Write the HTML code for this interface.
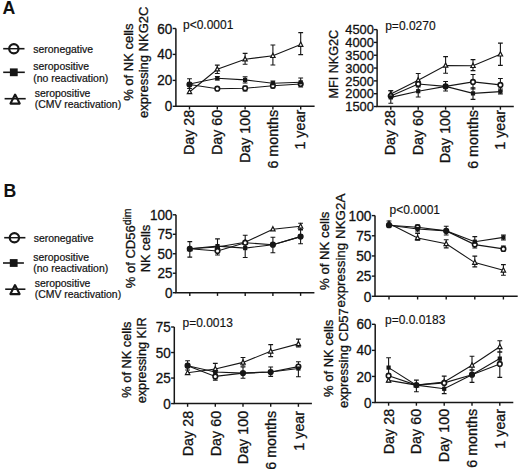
<!DOCTYPE html><html><head><meta charset="utf-8"><style>html,body{margin:0;padding:0;background:#fff;}svg{display:block;}</style></head><body>
<svg width="520" height="469" viewBox="0 0 520 469" font-family='"Liberation Sans", sans-serif' fill="#111" stroke-linecap="butt">
<rect width="520" height="469" fill="#fff"/>
<style>text{stroke:#111;stroke-width:0.3px;} text.nb{stroke:none;} text.pv{stroke-width:0.15px;} text.lg{stroke-width:0.2px;}</style>
<text font-size="17.7" text-anchor="start" transform="translate(2.60,13.85)" font-weight="bold" class="nb">A</text>
<text font-size="17.7" text-anchor="start" transform="translate(3.40,196.60)" font-weight="bold" class="nb">B</text>
<line x1="3.2" y1="48.70" x2="24.5" y2="48.70" stroke="#161616" stroke-width="1.6"/>
<circle cx="13.85" cy="48.70" r="4.65" fill="#fff" stroke="#161616" stroke-width="2.2"/>
<line x1="8.85" y1="48.70" x2="18.85" y2="48.70" stroke="#161616" stroke-width="1.4"/>
<line x1="3.2" y1="72.30" x2="24.8" y2="72.30" stroke="#161616" stroke-width="1.6"/>
<rect x="9.90" y="68.40" width="7.8" height="7.8" fill="#161616"/>
<path d="M15.10,94.60 L19.70,103.60 L10.50,103.60 Z" fill="#fff" stroke="#161616" stroke-width="2.1" stroke-linejoin="round"/>
<line x1="4.6" y1="98.70" x2="25.7" y2="98.70" stroke="#161616" stroke-width="1.6"/>
<text font-size="10.0" text-anchor="start" transform="translate(33.30,53.20) scale(1.045,1.0)" class="lg">seronegative</text>
<text font-size="10.0" text-anchor="start" transform="translate(33.30,70.40) scale(1.045,1.0)" class="lg">seropositive</text>
<text font-size="10.0" text-anchor="start" transform="translate(33.30,82.00) scale(1.045,1.0)" class="lg">(no reactivation)</text>
<text font-size="10.0" text-anchor="start" transform="translate(34.70,96.50) scale(1.045,1.0)" class="lg">seropositive</text>
<text font-size="10.0" text-anchor="start" transform="translate(34.70,107.70) scale(1.045,1.0)" class="lg">(CMV reactivation)</text>
<line x1="4.2" y1="237.70" x2="25.4" y2="237.70" stroke="#161616" stroke-width="1.6"/>
<circle cx="14.4" cy="237.70" r="4.65" fill="#fff" stroke="#161616" stroke-width="2.2"/>
<line x1="9.4" y1="237.70" x2="19.4" y2="237.70" stroke="#161616" stroke-width="1.4"/>
<line x1="3.0" y1="263.00" x2="23.9" y2="263.00" stroke="#161616" stroke-width="1.6"/>
<rect x="9.80" y="259.10" width="7.8" height="7.8" fill="#161616"/>
<path d="M15.00,285.10 L19.60,294.10 L10.40,294.10 Z" fill="#fff" stroke="#161616" stroke-width="2.1" stroke-linejoin="round"/>
<line x1="5.2" y1="289.20" x2="25.4" y2="289.20" stroke="#161616" stroke-width="1.6"/>
<text font-size="10.0" text-anchor="start" transform="translate(33.70,242.00) scale(1.045,1.0)" class="lg">seronegative</text>
<text font-size="10.0" text-anchor="start" transform="translate(33.30,260.80) scale(1.045,1.0)" class="lg">seropositive</text>
<text font-size="10.0" text-anchor="start" transform="translate(33.30,271.90) scale(1.045,1.0)" class="lg">(no reactivation)</text>
<text font-size="10.0" text-anchor="start" transform="translate(34.70,287.00) scale(1.045,1.0)" class="lg">seropositive</text>
<text font-size="10.0" text-anchor="start" transform="translate(34.70,298.30) scale(1.045,1.0)" class="lg">(CMV reactivation)</text>
<path d="M175.90,28.50 V106.30 H314.60" fill="none" stroke="#161616" stroke-width="1.5"/>
<line x1="172.70" y1="28.50" x2="175.90" y2="28.50" stroke="#161616" stroke-width="1.4"/>
<text font-size="13.5" text-anchor="end" transform="translate(172.30,33.57) scale(1.0,1.05)">60</text>
<line x1="172.70" y1="54.40" x2="175.90" y2="54.40" stroke="#161616" stroke-width="1.4"/>
<text font-size="13.5" text-anchor="end" transform="translate(172.30,59.47) scale(1.0,1.05)">40</text>
<line x1="172.70" y1="80.40" x2="175.90" y2="80.40" stroke="#161616" stroke-width="1.4"/>
<text font-size="13.5" text-anchor="end" transform="translate(172.30,85.47) scale(1.0,1.05)">20</text>
<line x1="172.70" y1="106.30" x2="175.90" y2="106.30" stroke="#161616" stroke-width="1.4"/>
<text font-size="13.5" text-anchor="end" transform="translate(172.30,111.37) scale(1.0,1.05)">0</text>
<line x1="189.50" y1="106.30" x2="189.50" y2="109.50" stroke="#161616" stroke-width="1.4"/>
<line x1="217.30" y1="106.30" x2="217.30" y2="109.50" stroke="#161616" stroke-width="1.4"/>
<line x1="245.10" y1="106.30" x2="245.10" y2="109.50" stroke="#161616" stroke-width="1.4"/>
<line x1="272.90" y1="106.30" x2="272.90" y2="109.50" stroke="#161616" stroke-width="1.4"/>
<line x1="300.70" y1="106.30" x2="300.70" y2="109.50" stroke="#161616" stroke-width="1.4"/>
<text font-size="14.3" text-anchor="end" transform="translate(194.10,109.80) rotate(-90)">Day 28</text>
<text font-size="14.3" text-anchor="end" transform="translate(221.90,109.80) rotate(-90)">Day 60</text>
<text font-size="14.3" text-anchor="end" transform="translate(249.70,109.80) rotate(-90)">Day 100</text>
<text font-size="14.3" text-anchor="end" transform="translate(277.50,109.80) rotate(-90)">6 months</text>
<text font-size="14.3" text-anchor="end" transform="translate(305.30,109.80) rotate(-90)">1 year</text>
<path d="M217.30,65.10 V73.50 M214.90,65.10 H219.70 M214.90,73.50 H219.70" stroke="#161616" stroke-width="1.1" fill="none"/>
<path d="M245.10,53.40 V64.20 M242.70,53.40 H247.50 M242.70,64.20 H247.50" stroke="#161616" stroke-width="1.1" fill="none"/>
<path d="M272.90,45.00 V65.00 M270.50,45.00 H275.30 M270.50,65.00 H275.30" stroke="#161616" stroke-width="1.1" fill="none"/>
<path d="M300.70,32.60 V54.60 M298.30,32.60 H303.10 M298.30,54.60 H303.10" stroke="#161616" stroke-width="1.1" fill="none"/>
<path d="M245.10,86.00 V91.00 M242.70,86.00 H247.50 M242.70,91.00 H247.50" stroke="#161616" stroke-width="1.1" fill="none"/>
<path d="M272.90,83.00 V88.00 M270.50,83.00 H275.30 M270.50,88.00 H275.30" stroke="#161616" stroke-width="1.1" fill="none"/>
<path d="M189.50,78.80 V88.50 M187.10,78.80 H191.90 M187.10,88.50 H191.90" stroke="#161616" stroke-width="1.1" fill="none"/>
<path d="M217.30,76.50 V80.00 M214.90,76.50 H219.70 M214.90,80.00 H219.70" stroke="#161616" stroke-width="1.1" fill="none"/>
<path d="M245.10,76.80 V83.00 M242.70,76.80 H247.50 M242.70,83.00 H247.50" stroke="#161616" stroke-width="1.1" fill="none"/>
<path d="M272.90,81.00 V86.00 M270.50,81.00 H275.30 M270.50,86.00 H275.30" stroke="#161616" stroke-width="1.1" fill="none"/>
<path d="M300.70,78.00 V87.00 M298.30,78.00 H303.10 M298.30,87.00 H303.10" stroke="#161616" stroke-width="1.1" fill="none"/>
<polyline points="189.50,92.00 217.30,69.20 245.10,59.20 272.90,55.80 300.70,44.60" fill="none" stroke="#161616" stroke-width="1.1"/>
<polyline points="189.50,84.50 217.30,88.70 245.10,88.30 272.90,85.80 300.70,84.00" fill="none" stroke="#161616" stroke-width="1.1"/>
<polyline points="189.50,84.00 217.30,78.20 245.10,79.90 272.90,83.20 300.70,82.30" fill="none" stroke="#161616" stroke-width="1.1"/>
<path d="M189.50,89.47 L191.69,93.72 L187.31,93.72 Z" fill="#fff" stroke="#161616" stroke-width="1.20" stroke-linejoin="miter"/>
<path d="M217.30,66.67 L219.49,70.92 L215.12,70.92 Z" fill="#fff" stroke="#161616" stroke-width="1.20" stroke-linejoin="miter"/>
<path d="M245.10,56.67 L247.28,60.93 L242.91,60.93 Z" fill="#fff" stroke="#161616" stroke-width="1.20" stroke-linejoin="miter"/>
<path d="M272.90,53.27 L275.08,57.52 L270.71,57.52 Z" fill="#fff" stroke="#161616" stroke-width="1.20" stroke-linejoin="miter"/>
<path d="M300.70,42.07 L302.88,46.33 L298.51,46.33 Z" fill="#fff" stroke="#161616" stroke-width="1.20" stroke-linejoin="miter"/>
<circle cx="189.50" cy="84.50" r="2.30" fill="#fff" stroke="#161616" stroke-width="1.60"/>
<circle cx="217.30" cy="88.70" r="2.30" fill="#fff" stroke="#161616" stroke-width="1.60"/>
<circle cx="245.10" cy="88.30" r="2.30" fill="#fff" stroke="#161616" stroke-width="1.60"/>
<circle cx="272.90" cy="85.80" r="2.30" fill="#fff" stroke="#161616" stroke-width="1.60"/>
<circle cx="300.70" cy="84.00" r="2.30" fill="#fff" stroke="#161616" stroke-width="1.60"/>
<rect x="187.40" y="81.90" width="4.20" height="4.20" fill="#161616"/>
<rect x="215.20" y="76.10" width="4.20" height="4.20" fill="#161616"/>
<rect x="243.00" y="77.80" width="4.20" height="4.20" fill="#161616"/>
<rect x="270.80" y="81.10" width="4.20" height="4.20" fill="#161616"/>
<rect x="298.60" y="80.20" width="4.20" height="4.20" fill="#161616"/>
<text font-size="12.0" text-anchor="start" transform="translate(183.00,29.40)" class="pv">p&lt;0.0001</text>
<text font-size="13.0" text-anchor="middle" transform="translate(132.60,62.15) rotate(-90)">% of NK cells</text>
<text font-size="13.0" text-anchor="middle" transform="translate(148.40,62.25) rotate(-90)">expressing NKG2C</text>
<path d="M377.10,29.60 V106.50 H513.80" fill="none" stroke="#161616" stroke-width="1.5"/>
<line x1="373.90" y1="29.60" x2="377.10" y2="29.60" stroke="#161616" stroke-width="1.4"/>
<text font-size="12.9" text-anchor="end" transform="translate(373.90,34.22)">4500</text>
<line x1="373.90" y1="42.42" x2="377.10" y2="42.42" stroke="#161616" stroke-width="1.4"/>
<text font-size="12.9" text-anchor="end" transform="translate(373.90,47.04)">4000</text>
<line x1="373.90" y1="55.24" x2="377.10" y2="55.24" stroke="#161616" stroke-width="1.4"/>
<text font-size="12.9" text-anchor="end" transform="translate(373.90,59.86)">3500</text>
<line x1="373.90" y1="68.06" x2="377.10" y2="68.06" stroke="#161616" stroke-width="1.4"/>
<text font-size="12.9" text-anchor="end" transform="translate(373.90,72.68)">3000</text>
<line x1="373.90" y1="80.88" x2="377.10" y2="80.88" stroke="#161616" stroke-width="1.4"/>
<text font-size="12.9" text-anchor="end" transform="translate(373.90,85.50)">2500</text>
<line x1="373.90" y1="93.70" x2="377.10" y2="93.70" stroke="#161616" stroke-width="1.4"/>
<text font-size="12.9" text-anchor="end" transform="translate(373.90,98.32)">2000</text>
<line x1="373.90" y1="106.52" x2="377.10" y2="106.52" stroke="#161616" stroke-width="1.4"/>
<text font-size="12.9" text-anchor="end" transform="translate(373.90,111.14)">1500</text>
<line x1="390.80" y1="106.50" x2="390.80" y2="109.70" stroke="#161616" stroke-width="1.4"/>
<line x1="418.20" y1="106.50" x2="418.20" y2="109.70" stroke="#161616" stroke-width="1.4"/>
<line x1="445.60" y1="106.50" x2="445.60" y2="109.70" stroke="#161616" stroke-width="1.4"/>
<line x1="473.00" y1="106.50" x2="473.00" y2="109.70" stroke="#161616" stroke-width="1.4"/>
<line x1="500.40" y1="106.50" x2="500.40" y2="109.70" stroke="#161616" stroke-width="1.4"/>
<text font-size="14.3" text-anchor="end" transform="translate(395.40,110.00) rotate(-90)">Day 28</text>
<text font-size="14.3" text-anchor="end" transform="translate(422.80,110.00) rotate(-90)">Day 60</text>
<text font-size="14.3" text-anchor="end" transform="translate(450.20,110.00) rotate(-90)">Day 100</text>
<text font-size="14.3" text-anchor="end" transform="translate(477.60,110.00) rotate(-90)">6 months</text>
<text font-size="14.3" text-anchor="end" transform="translate(505.00,110.00) rotate(-90)">1 year</text>
<path d="M390.80,90.70 V96.00 M388.40,90.70 H393.20 M388.40,96.00 H393.20" stroke="#161616" stroke-width="1.1" fill="none"/>
<path d="M418.20,73.50 V86.90 M415.80,73.50 H420.60 M415.80,86.90 H420.60" stroke="#161616" stroke-width="1.1" fill="none"/>
<path d="M445.60,56.60 V73.30 M443.20,56.60 H448.00 M443.20,73.30 H448.00" stroke="#161616" stroke-width="1.1" fill="none"/>
<path d="M473.00,59.60 V70.60 M470.60,59.60 H475.40 M470.60,70.60 H475.40" stroke="#161616" stroke-width="1.1" fill="none"/>
<path d="M500.40,43.10 V65.40 M498.00,43.10 H502.80 M498.00,65.40 H502.80" stroke="#161616" stroke-width="1.1" fill="none"/>
<path d="M473.00,74.50 V89.00 M470.60,74.50 H475.40 M470.60,89.00 H475.40" stroke="#161616" stroke-width="1.1" fill="none"/>
<path d="M500.40,78.50 V91.00 M498.00,78.50 H502.80 M498.00,91.00 H502.80" stroke="#161616" stroke-width="1.1" fill="none"/>
<path d="M390.80,90.70 V103.30 M388.40,90.70 H393.20 M388.40,103.30 H393.20" stroke="#161616" stroke-width="1.1" fill="none"/>
<path d="M418.20,85.00 V97.00 M415.80,85.00 H420.60 M415.80,97.00 H420.60" stroke="#161616" stroke-width="1.1" fill="none"/>
<path d="M445.60,81.50 V91.00 M443.20,81.50 H448.00 M443.20,91.00 H448.00" stroke="#161616" stroke-width="1.1" fill="none"/>
<path d="M473.00,87.90 V99.40 M470.60,87.90 H475.40 M470.60,99.40 H475.40" stroke="#161616" stroke-width="1.1" fill="none"/>
<path d="M500.40,89.00 V94.00 M498.00,89.00 H502.80 M498.00,94.00 H502.80" stroke="#161616" stroke-width="1.1" fill="none"/>
<polyline points="390.80,94.00 418.20,80.20 445.60,65.50 473.00,65.80 500.40,54.30" fill="none" stroke="#161616" stroke-width="1.1"/>
<polyline points="390.80,96.00 418.20,84.00 445.60,86.40 473.00,81.90 500.40,84.90" fill="none" stroke="#161616" stroke-width="1.1"/>
<polyline points="390.80,97.40 418.20,91.20 445.60,86.40 473.00,93.40 500.40,91.60" fill="none" stroke="#161616" stroke-width="1.1"/>
<path d="M390.80,91.47 L392.99,95.72 L388.62,95.72 Z" fill="#fff" stroke="#161616" stroke-width="1.20" stroke-linejoin="miter"/>
<path d="M418.20,77.67 L420.38,81.92 L416.01,81.92 Z" fill="#fff" stroke="#161616" stroke-width="1.20" stroke-linejoin="miter"/>
<path d="M445.60,62.97 L447.79,67.22 L443.42,67.22 Z" fill="#fff" stroke="#161616" stroke-width="1.20" stroke-linejoin="miter"/>
<path d="M473.00,63.27 L475.19,67.52 L470.81,67.52 Z" fill="#fff" stroke="#161616" stroke-width="1.20" stroke-linejoin="miter"/>
<path d="M500.40,51.77 L502.58,56.02 L498.21,56.02 Z" fill="#fff" stroke="#161616" stroke-width="1.20" stroke-linejoin="miter"/>
<circle cx="390.80" cy="96.00" r="2.30" fill="#fff" stroke="#161616" stroke-width="1.60"/>
<circle cx="418.20" cy="84.00" r="2.30" fill="#fff" stroke="#161616" stroke-width="1.60"/>
<circle cx="445.60" cy="86.40" r="2.30" fill="#fff" stroke="#161616" stroke-width="1.60"/>
<circle cx="473.00" cy="81.90" r="2.30" fill="#fff" stroke="#161616" stroke-width="1.60"/>
<circle cx="500.40" cy="84.90" r="2.30" fill="#fff" stroke="#161616" stroke-width="1.60"/>
<rect x="388.70" y="95.30" width="4.20" height="4.20" fill="#161616"/>
<rect x="416.10" y="89.10" width="4.20" height="4.20" fill="#161616"/>
<rect x="443.50" y="84.30" width="4.20" height="4.20" fill="#161616"/>
<rect x="470.90" y="91.30" width="4.20" height="4.20" fill="#161616"/>
<rect x="498.30" y="89.50" width="4.20" height="4.20" fill="#161616"/>
<text font-size="12.0" text-anchor="start" transform="translate(385.20,30.30)" class="pv">p=0.0270</text>
<text font-size="12.65" text-anchor="middle" transform="translate(337.90,64.20) rotate(-90)">MFI NKG2C</text>
<path d="M176.00,214.80 V292.70 H314.40" fill="none" stroke="#161616" stroke-width="1.5"/>
<line x1="172.80" y1="214.80" x2="176.00" y2="214.80" stroke="#161616" stroke-width="1.4"/>
<text font-size="13.5" text-anchor="end" transform="translate(172.40,219.87) scale(1.0,1.05)">100</text>
<line x1="172.80" y1="234.28" x2="176.00" y2="234.28" stroke="#161616" stroke-width="1.4"/>
<text font-size="13.5" text-anchor="end" transform="translate(172.40,239.35) scale(1.0,1.05)">75</text>
<line x1="172.80" y1="253.75" x2="176.00" y2="253.75" stroke="#161616" stroke-width="1.4"/>
<text font-size="13.5" text-anchor="end" transform="translate(172.40,258.82) scale(1.0,1.05)">50</text>
<line x1="172.80" y1="273.23" x2="176.00" y2="273.23" stroke="#161616" stroke-width="1.4"/>
<text font-size="13.5" text-anchor="end" transform="translate(172.40,278.30) scale(1.0,1.05)">25</text>
<line x1="172.80" y1="292.70" x2="176.00" y2="292.70" stroke="#161616" stroke-width="1.4"/>
<text font-size="13.5" text-anchor="end" transform="translate(172.40,297.77) scale(1.0,1.05)">0</text>
<line x1="189.80" y1="292.70" x2="189.80" y2="295.90" stroke="#161616" stroke-width="1.4"/>
<line x1="217.50" y1="292.70" x2="217.50" y2="295.90" stroke="#161616" stroke-width="1.4"/>
<line x1="245.20" y1="292.70" x2="245.20" y2="295.90" stroke="#161616" stroke-width="1.4"/>
<line x1="272.90" y1="292.70" x2="272.90" y2="295.90" stroke="#161616" stroke-width="1.4"/>
<line x1="300.60" y1="292.70" x2="300.60" y2="295.90" stroke="#161616" stroke-width="1.4"/>
<path d="M300.60,223.20 V229.50 M298.20,223.20 H303.00 M298.20,229.50 H303.00" stroke="#161616" stroke-width="1.1" fill="none"/>
<path d="M217.50,247.00 V255.00 M215.10,247.00 H219.90 M215.10,255.00 H219.90" stroke="#161616" stroke-width="1.1" fill="none"/>
<path d="M189.80,241.60 V257.10 M187.40,241.60 H192.20 M187.40,257.10 H192.20" stroke="#161616" stroke-width="1.1" fill="none"/>
<path d="M217.50,238.90 V250.00 M215.10,238.90 H219.90 M215.10,250.00 H219.90" stroke="#161616" stroke-width="1.1" fill="none"/>
<path d="M245.20,235.30 V257.50 M242.80,235.30 H247.60 M242.80,257.50 H247.60" stroke="#161616" stroke-width="1.1" fill="none"/>
<path d="M272.90,237.30 V252.80 M270.50,237.30 H275.30 M270.50,252.80 H275.30" stroke="#161616" stroke-width="1.1" fill="none"/>
<path d="M300.60,230.00 V243.80 M298.20,230.00 H303.00 M298.20,243.80 H303.00" stroke="#161616" stroke-width="1.1" fill="none"/>
<polyline points="189.80,248.80 217.50,247.00 245.20,242.30 272.90,229.20 300.60,226.30" fill="none" stroke="#161616" stroke-width="1.1"/>
<polyline points="189.80,248.80 217.50,251.00 245.20,242.70 272.90,244.70 300.60,236.60" fill="none" stroke="#161616" stroke-width="1.1"/>
<polyline points="189.80,248.80 217.50,246.10 245.20,248.10 272.90,244.70 300.60,236.60" fill="none" stroke="#161616" stroke-width="1.1"/>
<path d="M189.80,246.27 L191.99,250.53 L187.62,250.53 Z" fill="#fff" stroke="#161616" stroke-width="1.20" stroke-linejoin="miter"/>
<path d="M217.50,244.47 L219.69,248.72 L215.31,248.72 Z" fill="#fff" stroke="#161616" stroke-width="1.20" stroke-linejoin="miter"/>
<path d="M245.20,239.77 L247.39,244.03 L243.02,244.03 Z" fill="#fff" stroke="#161616" stroke-width="1.20" stroke-linejoin="miter"/>
<path d="M272.90,226.67 L275.08,230.92 L270.71,230.92 Z" fill="#fff" stroke="#161616" stroke-width="1.20" stroke-linejoin="miter"/>
<path d="M300.60,223.77 L302.79,228.03 L298.42,228.03 Z" fill="#fff" stroke="#161616" stroke-width="1.20" stroke-linejoin="miter"/>
<circle cx="189.80" cy="248.80" r="2.30" fill="#fff" stroke="#161616" stroke-width="1.60"/>
<circle cx="217.50" cy="251.00" r="2.30" fill="#fff" stroke="#161616" stroke-width="1.60"/>
<circle cx="245.20" cy="242.70" r="2.30" fill="#fff" stroke="#161616" stroke-width="1.60"/>
<circle cx="272.90" cy="244.70" r="2.30" fill="#fff" stroke="#161616" stroke-width="1.60"/>
<circle cx="300.60" cy="236.60" r="2.30" fill="#fff" stroke="#161616" stroke-width="1.60"/>
<rect x="187.70" y="246.70" width="4.20" height="4.20" fill="#161616"/>
<rect x="215.40" y="244.00" width="4.20" height="4.20" fill="#161616"/>
<rect x="243.10" y="246.00" width="4.20" height="4.20" fill="#161616"/>
<rect x="270.80" y="242.60" width="4.20" height="4.20" fill="#161616"/>
<rect x="298.50" y="234.50" width="4.20" height="4.20" fill="#161616"/>
<text font-size="13.0" text-anchor="middle" transform="translate(134.70,248.30) rotate(-90)">% of CD56<tspan font-size="10.5" dy="-4.2">dim</tspan></text>
<text font-size="13.0" text-anchor="middle" transform="translate(149.70,248.50) rotate(-90)">NK cells</text>
<path d="M375.00,215.60 V296.30 H517.70" fill="none" stroke="#161616" stroke-width="1.5"/>
<line x1="371.80" y1="215.60" x2="375.00" y2="215.60" stroke="#161616" stroke-width="1.4"/>
<text font-size="13.7" text-anchor="end" transform="translate(371.40,220.85) scale(1.0,1.07)">100</text>
<line x1="371.80" y1="235.78" x2="375.00" y2="235.78" stroke="#161616" stroke-width="1.4"/>
<text font-size="13.7" text-anchor="end" transform="translate(371.40,241.02) scale(1.0,1.07)">75</text>
<line x1="371.80" y1="255.95" x2="375.00" y2="255.95" stroke="#161616" stroke-width="1.4"/>
<text font-size="13.7" text-anchor="end" transform="translate(371.40,261.20) scale(1.0,1.07)">50</text>
<line x1="371.80" y1="276.12" x2="375.00" y2="276.12" stroke="#161616" stroke-width="1.4"/>
<text font-size="13.7" text-anchor="end" transform="translate(371.40,281.37) scale(1.0,1.07)">25</text>
<line x1="371.80" y1="296.30" x2="375.00" y2="296.30" stroke="#161616" stroke-width="1.4"/>
<text font-size="13.7" text-anchor="end" transform="translate(371.40,301.55) scale(1.0,1.07)">0</text>
<line x1="389.00" y1="296.30" x2="389.00" y2="299.50" stroke="#161616" stroke-width="1.4"/>
<line x1="417.60" y1="296.30" x2="417.60" y2="299.50" stroke="#161616" stroke-width="1.4"/>
<line x1="446.20" y1="296.30" x2="446.20" y2="299.50" stroke="#161616" stroke-width="1.4"/>
<line x1="474.80" y1="296.30" x2="474.80" y2="299.50" stroke="#161616" stroke-width="1.4"/>
<line x1="503.40" y1="296.30" x2="503.40" y2="299.50" stroke="#161616" stroke-width="1.4"/>
<path d="M389.00,221.00 V227.00 M386.60,221.00 H391.40 M386.60,227.00 H391.40" stroke="#161616" stroke-width="1.1" fill="none"/>
<path d="M417.60,233.50 V240.30 M415.20,233.50 H420.00 M415.20,240.30 H420.00" stroke="#161616" stroke-width="1.1" fill="none"/>
<path d="M446.20,239.80 V247.90 M443.80,239.80 H448.60 M443.80,247.90 H448.60" stroke="#161616" stroke-width="1.1" fill="none"/>
<path d="M474.80,256.10 V266.90 M472.40,256.10 H477.20 M472.40,266.90 H477.20" stroke="#161616" stroke-width="1.1" fill="none"/>
<path d="M503.40,264.60 V275.30 M501.00,264.60 H505.80 M501.00,275.30 H505.80" stroke="#161616" stroke-width="1.1" fill="none"/>
<path d="M446.20,226.30 V235.00 M443.80,226.30 H448.60 M443.80,235.00 H448.60" stroke="#161616" stroke-width="1.1" fill="none"/>
<path d="M474.80,236.60 V248.00 M472.40,236.60 H477.20 M472.40,248.00 H477.20" stroke="#161616" stroke-width="1.1" fill="none"/>
<path d="M503.40,246.00 V251.00 M501.00,246.00 H505.80 M501.00,251.00 H505.80" stroke="#161616" stroke-width="1.1" fill="none"/>
<path d="M417.60,225.00 V232.00 M415.20,225.00 H420.00 M415.20,232.00 H420.00" stroke="#161616" stroke-width="1.1" fill="none"/>
<path d="M503.40,235.00 V240.00 M501.00,235.00 H505.80 M501.00,240.00 H505.80" stroke="#161616" stroke-width="1.1" fill="none"/>
<polyline points="389.00,223.50 417.60,238.00 446.20,243.80 474.80,262.60 503.40,270.30" fill="none" stroke="#161616" stroke-width="1.1"/>
<polyline points="389.00,225.20 417.60,227.20 446.20,230.90 474.80,244.60 503.40,248.90" fill="none" stroke="#161616" stroke-width="1.1"/>
<polyline points="389.00,225.20 417.60,229.00 446.20,230.90 474.80,241.70 503.40,237.40" fill="none" stroke="#161616" stroke-width="1.1"/>
<path d="M389.00,220.97 L391.19,225.22 L386.81,225.22 Z" fill="#fff" stroke="#161616" stroke-width="1.20" stroke-linejoin="miter"/>
<path d="M417.60,235.47 L419.79,239.72 L415.42,239.72 Z" fill="#fff" stroke="#161616" stroke-width="1.20" stroke-linejoin="miter"/>
<path d="M446.20,241.27 L448.38,245.53 L444.01,245.53 Z" fill="#fff" stroke="#161616" stroke-width="1.20" stroke-linejoin="miter"/>
<path d="M474.80,260.07 L476.99,264.33 L472.62,264.33 Z" fill="#fff" stroke="#161616" stroke-width="1.20" stroke-linejoin="miter"/>
<path d="M503.40,267.77 L505.58,272.03 L501.21,272.03 Z" fill="#fff" stroke="#161616" stroke-width="1.20" stroke-linejoin="miter"/>
<circle cx="389.00" cy="225.20" r="2.30" fill="#fff" stroke="#161616" stroke-width="1.60"/>
<circle cx="417.60" cy="227.20" r="2.30" fill="#fff" stroke="#161616" stroke-width="1.60"/>
<circle cx="446.20" cy="230.90" r="2.30" fill="#fff" stroke="#161616" stroke-width="1.60"/>
<circle cx="474.80" cy="244.60" r="2.30" fill="#fff" stroke="#161616" stroke-width="1.60"/>
<circle cx="503.40" cy="248.90" r="2.30" fill="#fff" stroke="#161616" stroke-width="1.60"/>
<rect x="386.90" y="223.10" width="4.20" height="4.20" fill="#161616"/>
<rect x="415.50" y="226.90" width="4.20" height="4.20" fill="#161616"/>
<rect x="444.10" y="228.80" width="4.20" height="4.20" fill="#161616"/>
<rect x="472.70" y="239.60" width="4.20" height="4.20" fill="#161616"/>
<rect x="501.30" y="235.30" width="4.20" height="4.20" fill="#161616"/>
<text font-size="12.0" text-anchor="start" transform="translate(389.60,213.90)" class="pv">p&lt;0.0001</text>
<text font-size="13.2" text-anchor="middle" transform="translate(329.10,250.80) rotate(-90)">% of NK cells</text>
<text font-size="13.4" text-anchor="middle" transform="translate(344.60,250.55) rotate(-90)">expressing NKG2A</text>
<path d="M174.30,327.00 V403.60 H311.90" fill="none" stroke="#161616" stroke-width="1.5"/>
<line x1="171.10" y1="327.00" x2="174.30" y2="327.00" stroke="#161616" stroke-width="1.4"/>
<text font-size="13.5" text-anchor="end" transform="translate(170.70,332.07) scale(1.0,1.05)">75</text>
<line x1="171.10" y1="352.53" x2="174.30" y2="352.53" stroke="#161616" stroke-width="1.4"/>
<text font-size="13.5" text-anchor="end" transform="translate(170.70,357.60) scale(1.0,1.05)">50</text>
<line x1="171.10" y1="378.06" x2="174.30" y2="378.06" stroke="#161616" stroke-width="1.4"/>
<text font-size="13.5" text-anchor="end" transform="translate(170.70,383.13) scale(1.0,1.05)">25</text>
<line x1="171.10" y1="403.59" x2="174.30" y2="403.59" stroke="#161616" stroke-width="1.4"/>
<text font-size="13.5" text-anchor="end" transform="translate(170.70,408.66) scale(1.0,1.05)">0</text>
<line x1="187.60" y1="403.60" x2="187.60" y2="406.80" stroke="#161616" stroke-width="1.4"/>
<line x1="215.30" y1="403.60" x2="215.30" y2="406.80" stroke="#161616" stroke-width="1.4"/>
<line x1="243.00" y1="403.60" x2="243.00" y2="406.80" stroke="#161616" stroke-width="1.4"/>
<line x1="270.70" y1="403.60" x2="270.70" y2="406.80" stroke="#161616" stroke-width="1.4"/>
<line x1="298.40" y1="403.60" x2="298.40" y2="406.80" stroke="#161616" stroke-width="1.4"/>
<text font-size="14.3" text-anchor="end" transform="translate(192.80,410.90) rotate(-90)">Day 28</text>
<text font-size="14.3" text-anchor="end" transform="translate(220.50,410.90) rotate(-90)">Day 60</text>
<text font-size="14.3" text-anchor="end" transform="translate(248.20,410.90) rotate(-90)">Day 100</text>
<text font-size="14.3" text-anchor="end" transform="translate(275.90,410.90) rotate(-90)">6 months</text>
<text font-size="14.3" text-anchor="end" transform="translate(303.60,410.90) rotate(-90)">1 year</text>
<path d="M215.30,363.40 V372.00 M212.90,363.40 H217.70 M212.90,372.00 H217.70" stroke="#161616" stroke-width="1.1" fill="none"/>
<path d="M243.00,357.50 V366.00 M240.60,357.50 H245.40 M240.60,366.00 H245.40" stroke="#161616" stroke-width="1.1" fill="none"/>
<path d="M270.70,344.60 V356.60 M268.30,344.60 H273.10 M268.30,356.60 H273.10" stroke="#161616" stroke-width="1.1" fill="none"/>
<path d="M298.40,339.10 V346.90 M296.00,339.10 H300.80 M296.00,346.90 H300.80" stroke="#161616" stroke-width="1.1" fill="none"/>
<path d="M187.60,360.70 V370.00 M185.20,360.70 H190.00 M185.20,370.00 H190.00" stroke="#161616" stroke-width="1.1" fill="none"/>
<path d="M215.30,372.00 V380.10 M212.90,372.00 H217.70 M212.90,380.10 H217.70" stroke="#161616" stroke-width="1.1" fill="none"/>
<path d="M243.00,367.00 V378.20 M240.60,367.00 H245.40 M240.60,378.20 H245.40" stroke="#161616" stroke-width="1.1" fill="none"/>
<path d="M270.70,367.00 V376.40 M268.30,367.00 H273.10 M268.30,376.40 H273.10" stroke="#161616" stroke-width="1.1" fill="none"/>
<path d="M298.40,361.80 V376.70 M296.00,361.80 H300.80 M296.00,376.70 H300.80" stroke="#161616" stroke-width="1.1" fill="none"/>
<polyline points="187.60,372.80 215.30,369.00 243.00,362.40 270.70,351.30 298.40,343.90" fill="none" stroke="#161616" stroke-width="1.1"/>
<polyline points="187.60,365.70 215.30,376.40 243.00,373.10 270.70,372.00 298.40,366.60" fill="none" stroke="#161616" stroke-width="1.1"/>
<polyline points="187.60,365.70 215.30,372.00 243.00,373.10 270.70,372.00 298.40,368.50" fill="none" stroke="#161616" stroke-width="1.1"/>
<path d="M187.60,370.27 L189.78,374.53 L185.41,374.53 Z" fill="#fff" stroke="#161616" stroke-width="1.20" stroke-linejoin="miter"/>
<path d="M215.30,366.47 L217.48,370.73 L213.11,370.73 Z" fill="#fff" stroke="#161616" stroke-width="1.20" stroke-linejoin="miter"/>
<path d="M243.00,359.87 L245.19,364.12 L240.81,364.12 Z" fill="#fff" stroke="#161616" stroke-width="1.20" stroke-linejoin="miter"/>
<path d="M270.70,348.77 L272.88,353.03 L268.51,353.03 Z" fill="#fff" stroke="#161616" stroke-width="1.20" stroke-linejoin="miter"/>
<path d="M298.40,341.37 L300.58,345.62 L296.21,345.62 Z" fill="#fff" stroke="#161616" stroke-width="1.20" stroke-linejoin="miter"/>
<circle cx="187.60" cy="365.70" r="2.30" fill="#fff" stroke="#161616" stroke-width="1.60"/>
<circle cx="215.30" cy="376.40" r="2.30" fill="#fff" stroke="#161616" stroke-width="1.60"/>
<circle cx="243.00" cy="373.10" r="2.30" fill="#fff" stroke="#161616" stroke-width="1.60"/>
<circle cx="270.70" cy="372.00" r="2.30" fill="#fff" stroke="#161616" stroke-width="1.60"/>
<circle cx="298.40" cy="366.60" r="2.30" fill="#fff" stroke="#161616" stroke-width="1.60"/>
<rect x="185.50" y="363.60" width="4.20" height="4.20" fill="#161616"/>
<rect x="213.20" y="369.90" width="4.20" height="4.20" fill="#161616"/>
<rect x="240.90" y="371.00" width="4.20" height="4.20" fill="#161616"/>
<rect x="268.60" y="369.90" width="4.20" height="4.20" fill="#161616"/>
<rect x="296.30" y="366.40" width="4.20" height="4.20" fill="#161616"/>
<text font-size="12.0" text-anchor="start" transform="translate(182.50,326.90)" class="pv">p=0.0013</text>
<text font-size="12.8" text-anchor="middle" transform="translate(131.00,359.60) rotate(-90)">% of NK cells</text>
<text font-size="12.7" text-anchor="middle" transform="translate(146.30,360.30) rotate(-90)">expressing KIR</text>
<path d="M375.20,324.30 V402.50 H513.30" fill="none" stroke="#161616" stroke-width="1.5"/>
<line x1="372.00" y1="324.30" x2="375.20" y2="324.30" stroke="#161616" stroke-width="1.4"/>
<text font-size="13.5" text-anchor="end" transform="translate(371.60,329.37) scale(1.0,1.05)">60</text>
<line x1="372.00" y1="350.37" x2="375.20" y2="350.37" stroke="#161616" stroke-width="1.4"/>
<text font-size="13.5" text-anchor="end" transform="translate(371.60,355.44) scale(1.0,1.05)">40</text>
<line x1="372.00" y1="376.44" x2="375.20" y2="376.44" stroke="#161616" stroke-width="1.4"/>
<text font-size="13.5" text-anchor="end" transform="translate(371.60,381.51) scale(1.0,1.05)">20</text>
<line x1="372.00" y1="402.51" x2="375.20" y2="402.51" stroke="#161616" stroke-width="1.4"/>
<text font-size="13.5" text-anchor="end" transform="translate(371.60,407.58) scale(1.0,1.05)">0</text>
<line x1="388.60" y1="402.50" x2="388.60" y2="405.70" stroke="#161616" stroke-width="1.4"/>
<line x1="416.40" y1="402.50" x2="416.40" y2="405.70" stroke="#161616" stroke-width="1.4"/>
<line x1="444.20" y1="402.50" x2="444.20" y2="405.70" stroke="#161616" stroke-width="1.4"/>
<line x1="472.00" y1="402.50" x2="472.00" y2="405.70" stroke="#161616" stroke-width="1.4"/>
<line x1="499.80" y1="402.50" x2="499.80" y2="405.70" stroke="#161616" stroke-width="1.4"/>
<text font-size="14.3" text-anchor="end" transform="translate(393.60,408.90) rotate(-90)">Day 28</text>
<text font-size="14.3" text-anchor="end" transform="translate(421.40,408.90) rotate(-90)">Day 60</text>
<text font-size="14.3" text-anchor="end" transform="translate(449.20,408.90) rotate(-90)">Day 100</text>
<text font-size="14.3" text-anchor="end" transform="translate(477.00,408.90) rotate(-90)">6 months</text>
<text font-size="14.3" text-anchor="end" transform="translate(504.80,408.90) rotate(-90)">1 year</text>
<path d="M472.00,356.30 V370.00 M469.60,356.30 H474.40 M469.60,370.00 H474.40" stroke="#161616" stroke-width="1.1" fill="none"/>
<path d="M499.80,340.70 V352.00 M497.40,340.70 H502.20 M497.40,352.00 H502.20" stroke="#161616" stroke-width="1.1" fill="none"/>
<path d="M388.60,357.80 V382.00 M386.20,357.80 H391.00 M386.20,382.00 H391.00" stroke="#161616" stroke-width="1.1" fill="none"/>
<path d="M416.40,380.10 V391.80 M414.00,380.10 H418.80 M414.00,391.80 H418.80" stroke="#161616" stroke-width="1.1" fill="none"/>
<path d="M444.20,376.10 V393.60 M441.80,376.10 H446.60 M441.80,393.60 H446.60" stroke="#161616" stroke-width="1.1" fill="none"/>
<path d="M472.00,370.00 V382.40 M469.60,370.00 H474.40 M469.60,382.40 H474.40" stroke="#161616" stroke-width="1.1" fill="none"/>
<path d="M499.80,352.00 V377.40 M497.40,352.00 H502.20 M497.40,377.40 H502.20" stroke="#161616" stroke-width="1.1" fill="none"/>
<polyline points="388.60,380.40 416.40,385.10 444.20,382.00 472.00,365.30 499.80,346.80" fill="none" stroke="#161616" stroke-width="1.1"/>
<polyline points="388.60,375.70 416.40,385.10 444.20,382.90 472.00,374.70 499.80,363.90" fill="none" stroke="#161616" stroke-width="1.1"/>
<polyline points="388.60,367.60 416.40,385.10 444.20,388.80 472.00,374.70 499.80,358.60" fill="none" stroke="#161616" stroke-width="1.1"/>
<path d="M388.60,377.87 L390.79,382.12 L386.42,382.12 Z" fill="#fff" stroke="#161616" stroke-width="1.20" stroke-linejoin="miter"/>
<path d="M416.40,382.57 L418.59,386.83 L414.22,386.83 Z" fill="#fff" stroke="#161616" stroke-width="1.20" stroke-linejoin="miter"/>
<path d="M444.20,379.47 L446.39,383.73 L442.02,383.73 Z" fill="#fff" stroke="#161616" stroke-width="1.20" stroke-linejoin="miter"/>
<path d="M472.00,362.77 L474.19,367.03 L469.81,367.03 Z" fill="#fff" stroke="#161616" stroke-width="1.20" stroke-linejoin="miter"/>
<path d="M499.80,344.27 L501.99,348.53 L497.62,348.53 Z" fill="#fff" stroke="#161616" stroke-width="1.20" stroke-linejoin="miter"/>
<circle cx="388.60" cy="375.70" r="2.30" fill="#fff" stroke="#161616" stroke-width="1.60"/>
<circle cx="416.40" cy="385.10" r="2.30" fill="#fff" stroke="#161616" stroke-width="1.60"/>
<circle cx="444.20" cy="382.90" r="2.30" fill="#fff" stroke="#161616" stroke-width="1.60"/>
<circle cx="472.00" cy="374.70" r="2.30" fill="#fff" stroke="#161616" stroke-width="1.60"/>
<circle cx="499.80" cy="363.90" r="2.30" fill="#fff" stroke="#161616" stroke-width="1.60"/>
<rect x="386.50" y="365.50" width="4.20" height="4.20" fill="#161616"/>
<rect x="414.30" y="383.00" width="4.20" height="4.20" fill="#161616"/>
<rect x="442.10" y="386.70" width="4.20" height="4.20" fill="#161616"/>
<rect x="469.90" y="372.60" width="4.20" height="4.20" fill="#161616"/>
<rect x="497.70" y="356.50" width="4.20" height="4.20" fill="#161616"/>
<text font-size="12.0" text-anchor="start" transform="translate(385.00,324.10)" class="pv">p=0.0.0183</text>
<text font-size="13.0" text-anchor="middle" transform="translate(333.00,358.30) rotate(-90)">% of NK cells</text>
<text font-size="13.0" text-anchor="middle" transform="translate(347.90,358.10) rotate(-90)">expressing CD57</text>
</svg></body></html>
